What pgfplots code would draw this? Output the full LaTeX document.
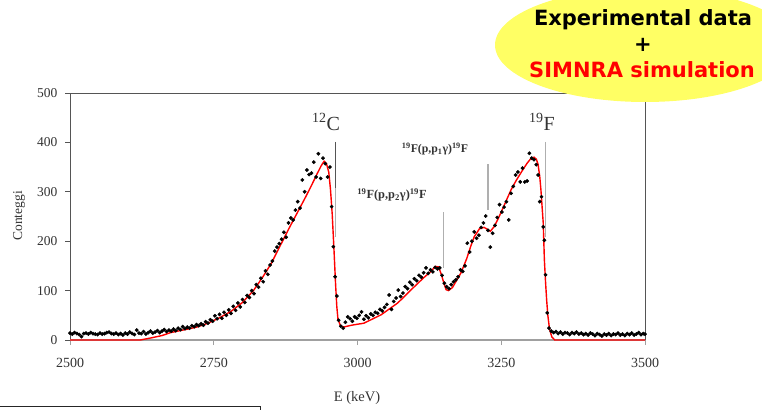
\documentclass[border=0pt]{standalone}
\usepackage{fontspec}
\setmainfont{Liberation Serif}
\newfontfamily\boxfont{DejaVu Sans}
\usepackage{pgfplots}
\pgfplotsset{compat=1.18}
\usepackage{pgfplotstable}

\definecolor{hilite}{RGB}{255,255,100}
\definecolor{axdark}{RGB}{85,85,85}
\definecolor{axlight}{RGB}{160,160,160}
\definecolor{markline}{RGB}{175,175,175}

% measured spectrum: energy (keV), counts
\pgfplotstableread{
E C
2500 14
2504 12
2508 15
2512 13
2516 11
2520 7
2524 13
2528 14
2532 12
2536 15
2540 13
2544 12
2548 11
2552 14
2556 12
2560 13
2564 15
2568 16
2572 13
2576 12
2580 14
2584 11
2588 13
2592 10
2596 14
2600 12
2604 16
2608 13
2612 11
2616 20
2620 14
2624 13
2628 17
2632 12
2636 15
2640 18
2644 14
2648 16
2652 19
2656 15
2660 18
2664 21
2668 17
2672 20
2676 18
2680 22
2684 19
2688 24
2692 21
2696 27
2700 23
2704 26
2708 24
2712 29
2716 27
2720 31
2724 29
2728 33
2732 30
2736 37
2740 34
2744 41
2748 38
2752 49
2756 43
2760 52
2764 44
2768 56
2772 50
2776 61
2780 54
2784 68
2788 60
2792 75
2796 67
2800 82
2804 76
2808 90
2812 86
2816 100
2820 94
2824 112
2828 107
2832 125
2836 118
2840 140
2844 133
2848 152
2852 160
2856 180
2860 188
2864 195
2868 204
2872 218
2876 208
2880 237
2884 247
2888 243
2892 263
2896 280
2900 267
2904 324
2908 300
2912 344
2916 335
2920 338
2924 360
2928 330
2932 377
2936 327
2940 368
2944 357
2948 330
2952 350
2955 270
2958 189
2961 128
2964 89
2967 40
2971 28
2975 24
2979 36
2983 47
2987 43
2991 38
2995 47
2999 44
3003 50
3007 57
3011 42
3015 49
3019 45
3023 53
3027 50
3031 56
3035 54
3039 62
3043 59
3047 66
3051 72
3055 91
3059 62
3063 78
3067 85
3071 101
3075 88
3079 95
3083 108
3087 104
3091 117
3095 112
3099 124
3103 120
3107 131
3111 127
3115 136
3119 146
3123 135
3127 142
3131 138
3135 147
3139 144
3143 146
3147 131
3151 115
3155 108
3159 104
3163 112
3167 118
3171 122
3175 128
3179 142
3183 139
3187 150
3191 196
3195 178
3199 200
3203 219
3207 206
3211 212
3215 228
3219 237
3223 251
3227 222
3231 188
3235 216
3239 232
3243 248
3247 274
3251 259
3255 269
3259 280
3263 243
3267 297
3271 311
3275 334
3279 340
3283 320
3287 348
3291 320
3295 322
3299 378
3303 368
3307 365
3311 355
3314 334
3317 280
3320 290
3323 229
3325 202
3327 132
3330 55
3333 24
3337 18
3341 15
3345 17
3349 13
3353 16
3357 12
3361 15
3365 14
3369 11
3373 15
3377 13
3381 16
3385 12
3389 14
3393 11
3397 13
3401 10
3405 14
3409 12
3413 9
3417 13
3421 11
3425 8
3429 12
3433 10
3437 13
3441 9
3445 12
3449 11
3453 14
3457 10
3461 12
3465 9
3469 13
3473 11
3477 14
3481 10
3485 12
3489 15
3493 11
3497 13
3500 12
}\measured

% SIMNRA simulated spectrum
\pgfplotstableread{
E C
2500 0
2622 0
2640 4
2660 9
2675 15
2700 21
2720 26
2740 34
2760 45
2780 58
2800 76
2819 100
2835 127
2850 155
2860 178
2870 201
2880 224
2890 246
2900 268
2910 290
2920 313
2930 337
2937 353
2942 362
2946 357
2950 340
2953 305
2956 255
2959 185
2962 110
2964 68
2966 42
2970 30
2975 26
2990 30
3011 34
3041 51
3070 75
3098 107
3115 126
3128 139
3135 149
3141 148
3146 132
3150 116
3154 102
3158 100
3165 106
3172 120
3180 136
3190 165
3197 190
3203 209
3212 225
3220 228
3226 224
3231 220
3238 230
3246 249
3256 275
3267 304
3276 323
3285 340
3295 358
3302 368
3307 370
3311 366
3314 356
3317 330
3319 304
3321 270
3323 237
3325 162
3327 118
3329 80
3331 50
3334 22
3338 6
3343 0
3500 0
}\simulated

\begin{document}
\begin{tikzpicture}[x=1pt,y=1pt]
\useasboundingbox (0,0) rectangle (762,410);

\begin{axis}[
  at={(70pt,70pt)}, anchor=south west,
  scale only axis, width=575pt, height=247pt,
  xmin=2500, xmax=3500, ymin=0, ymax=500,
  clip=false,
  axis line style={draw=none},
  xtick={2500,2750,3000,3250,3500},
  ytick={0,100,200,300,400,500},
  xtick pos=lower, ytick pos=left,
  tick align=outside, major tick length=5pt,
  x tick style={axlight, line width=1pt},
  y tick style={axdark, line width=1pt},
  /pgf/number format/1000 sep={},
  /pgf/number format/assume math mode=true,
  tick label style={text=black!80},
  xticklabel style={font=\fontsize{14}{16}\selectfont, yshift=-10pt},
  yticklabel style={font=\fontsize{13.5}{16}\selectfont, xshift=-4pt},
]
  % frame: dark left/top/right, light baseline
  \draw[axdark, line width=1pt] (rel axis cs:0,0) -- (rel axis cs:0,1) -- (rel axis cs:1,1) -- (rel axis cs:1,0);
  \draw[axlight, line width=1.2pt] (rel axis cs:0,0) -- (rel axis cs:1,0);

  % markers of the surface and resonance energies
  \draw[axdark, line width=1.3pt] (axis cs:2962,401) -- (axis cs:2962,308);
  \draw[markline, line width=1.3pt] (axis cs:2962,308) -- (axis cs:2962,209);
  \draw[markline, line width=1.3pt] (axis cs:3149,259) -- (axis cs:3149,146);
  \draw[markline, line width=1.3pt] (axis cs:3227,356) -- (axis cs:3227,263);
  \draw[markline, line width=1.3pt] (axis cs:3327,401) -- (axis cs:3327,208);

  \addplot[red, line width=1.4pt, no marks] table[x=E, y=C] {\simulated};
  \addplot[only marks, mark=*, mark size=1.7pt, black] table[x=E, y=C] {\measured};
\end{axis}

% axis titles
\node[font=\fontsize{14.5}{17}\selectfont, text=black!80] at (357,12) {E (keV)};
\node[font=\fontsize{13.5}{16}\selectfont, text=black!80, rotate=90] at (19,194) {Conteggi};

% peak labels
\node[font=\fontsize{20}{24}\selectfont, text=black!80] at (326,288) {\textsuperscript{12}C};
\node[font=\fontsize{20}{24}\selectfont, text=black!80] at (542,288) {\textsuperscript{19}F};
\node[font=\bfseries\fontsize{11.8}{14}\selectfont, text=black!80] at (435,261) {\textsuperscript{19}F(p,p\textsubscript{1}γ)\textsuperscript{19}F};
\node[font=\bfseries\fontsize{12.4}{14}\selectfont, text=black!80] at (392,215) {\textsuperscript{19}F(p,p\textsubscript{2}γ)\textsuperscript{19}F};

% callout
\fill[hilite] (645,365) ellipse [x radius=150, y radius=57];
\node[font=\boxfont\bfseries\fontsize{21}{24}\selectfont] at (643,390) {Experimental data};
\node[font=\boxfont\bfseries\fontsize{21}{24}\selectfont] at (643,365) {+};
\node[font=\boxfont\bfseries\fontsize{21}{24}\selectfont, text=red] at (642,340) {SIMNRA simulation};

% edge of the box below
\draw[black!85, line width=1pt] (0,3.5) -- (260,3.5) -- (260,0);
\end{tikzpicture}
\end{document}
